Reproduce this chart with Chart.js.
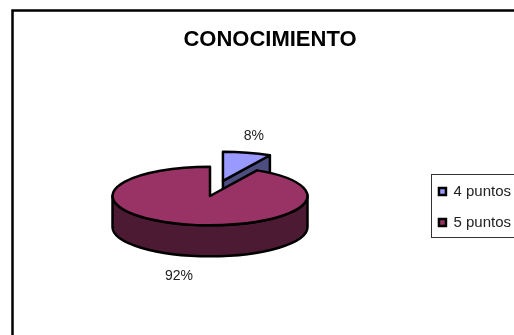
<!DOCTYPE html>
<html>
<head>
<meta charset="utf-8">
<style>
  html, body { margin: 0; padding: 0; width: 514px; height: 335px; overflow: hidden; background: #fff; }
  #box { position: absolute; left: 10px; top: 8px; width: 520px; height: 403px; }
</style>
<script src="https://cdn.jsdelivr.net/npm/chart.js@4"></script>
</head>
<body>
<div id="box"><canvas id="c" width="520" height="403"></canvas></div>
<script>
const chartTitle = 'CONOCIMIENTO';
const categories = ['4 puntos', '5 puntos'];
const percentages = [8, 92];
const faceColors = ['#9999ff', '#993366'];
const wallColors = ['#4d4d80', '#4d1a33'];
const explode = [52, 0];
const labelShift = [[31, -45], [-31, 80]];

const FONT = '"Liberation Sans", Arial, sans-serif';
const TILT = 0.3;
const DEPTH = 31;
const RADIUS = 97.5;

// Arc drawn as a flattened disc with a visible wall below its rim.
class TiltedArc extends Chart.ArcElement {
  center() {
    const mid = (this.startAngle + this.endAngle) / 2;
    const push = this.options.offset || 0;
    return { x: this.x + Math.cos(mid) * push, y: this.y + Math.sin(mid) * push * TILT };
  }
  draw(ctx) {
    const { startAngle: a0, endAngle: a1, outerRadius: r } = this;
    const o = this.options;
    const { x, y } = this.center();
    const ry = r * TILT;
    const rim = t => [x + Math.cos(t) * r, y + Math.sin(t) * ry];
    ctx.save();
    ctx.lineWidth = o.borderWidth;
    ctx.strokeStyle = o.borderColor;
    ctx.lineJoin = 'round';
    ctx.fillStyle = o.sideColor;

    const wallFrom = Math.max(a0, 0), wallTo = Math.min(a1, Math.PI);
    if (wallFrom < wallTo) {
      ctx.beginPath();
      ctx.ellipse(x, y, r, ry, 0, wallFrom, wallTo);
      ctx.ellipse(x, y + DEPTH, r, ry, 0, wallTo, wallFrom, true);
      ctx.closePath();
      ctx.fill();
      ctx.stroke();
    }
    [[a1, Math.cos(a1) > 1e-6], [a0, -Math.cos(a0) > 1e-6]].forEach(([t, seen]) => {
      if (!seen) return;
      const [px, py] = rim(t);
      ctx.beginPath();
      ctx.moveTo(x, y);
      ctx.lineTo(px, py);
      ctx.lineTo(px, py + DEPTH);
      ctx.lineTo(x, y + DEPTH);
      ctx.closePath();
      ctx.fill();
      ctx.stroke();
    });

    ctx.fillStyle = o.backgroundColor;
    ctx.beginPath();
    ctx.moveTo(x, y);
    ctx.ellipse(x, y, r, ry, 0, a0, a1);
    ctx.closePath();
    ctx.fill();
    ctx.stroke();
    ctx.restore();
  }
}
TiltedArc.id = 'tiltedArc';
TiltedArc.defaults = { ...Chart.ArcElement.defaults, sideColor: '#000' };

class TiltedPie extends Chart.PieController {}
TiltedPie.id = 'tiltedPie';
TiltedPie.defaults = { ...Chart.PieController.defaults, dataElementType: 'tiltedArc' };
TiltedPie.overrides = Chart.PieController.overrides;

Chart.register(TiltedArc, TiltedPie);

const plotPlacement = {
  id: 'plotPlacement',
  afterLayout(chart) {
    Object.assign(chart.chartArea, { left: 0, right: 400, top: 88, bottom: 288, width: 400, height: 200 });
  }
};

const frames = {
  id: 'frames',
  beforeDraw(chart) {
    const { ctx, width, height } = chart;
    ctx.save();
    ctx.strokeStyle = '#000';
    ctx.lineWidth = 2.5;
    ctx.strokeRect(2.5, 2.5, width + 10, height + 10);
    ctx.strokeStyle = '#333';
    ctx.lineWidth = 1;
    ctx.strokeRect(421.5, 166.5, 120, 63);
    ctx.restore();
  }
};

const percentLabels = {
  id: 'percentLabels',
  afterDatasetsDraw(chart) {
    const { ctx } = chart;
    ctx.save();
    ctx.font = '14px ' + FONT;
    ctx.fillStyle = '#222';
    ctx.textAlign = 'center';
    ctx.textBaseline = 'middle';
    chart.getDatasetMeta(0).data.forEach((arc, i) => {
      const c = arc.center();
      ctx.fillText(percentages[i] + '%', c.x + labelShift[i][0], c.y + labelShift[i][1]);
    });
    ctx.restore();
  }
};

new Chart(document.getElementById('c'), {
  type: 'tiltedPie',
  data: {
    labels: categories,
    datasets: [{
      data: percentages,
      backgroundColor: faceColors,
      sideColor: wallColors,
      offset: explode,
      borderColor: '#000',
      borderWidth: 2.5,
      radius: RADIUS
    }]
  },
  plugins: [plotPlacement, frames, percentLabels],
  options: {
    responsive: false,
    animation: false,
    events: [],
    layout: { padding: { left: 9, right: 9, bottom: 5 } },
    plugins: {
      tooltip: { enabled: false },
      title: {
        display: true,
        text: chartTitle,
        color: '#000',
        font: { family: FONT, size: 22, weight: 'bold' },
        padding: { top: 19, bottom: 9 }
      },
      legend: {
        position: 'right',
        align: 'center',
        labels: {
          color: '#222',
          font: { family: FONT, size: 15 },
          boxWidth: 7,
          boxHeight: 7,
          padding: 16
        }
      }
    }
  }
});
</script>
</body>
</html>
